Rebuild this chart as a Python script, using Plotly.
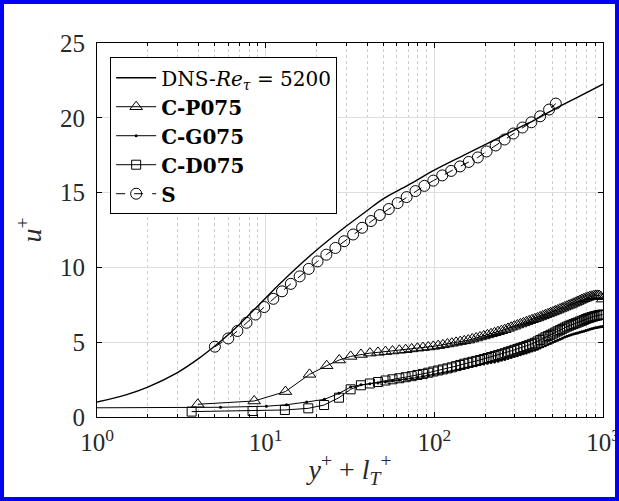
import plotly.graph_objects as go

# ---- DNS reference profile, Re_tau = 5200 ----
dns_yplus = [1, 1.5, 2, 3, 4, 5, 6, 7, 8, 10, 12, 15, 20, 25, 30, 40, 50, 70,
             100, 150, 200, 300, 400, 500, 700, 1000]
dns_uplus = [1.0, 1.5, 2.0, 2.97, 3.9, 4.75, 5.5, 6.2, 6.85, 7.95, 8.85, 9.9,
             11.15, 12.05, 12.75, 13.8, 14.6, 15.5, 16.5, 17.5, 18.2, 19.2,
             19.9, 20.5, 21.35, 22.25]

# ---- smooth wall case S ----
s_yplus = [5.0, 6.0, 6.8, 7.7, 8.7, 9.8, 11.1, 12.5, 14.1, 15.9, 18.0, 20.3,
           22.9, 25.9, 29.2, 33.0, 37.3, 42.1, 47.5, 53.7, 60.6, 68.5, 77.3,
           87.3, 98.6, 111.4, 125.8, 142, 160, 181, 204, 231, 261, 294, 333,
           376, 424, 479, 525]
s_uplus = [4.7, 5.25, 5.75, 6.3, 6.85, 7.35, 7.9, 8.4, 8.9, 9.4, 9.9, 10.4,
           10.85, 11.3, 11.75, 12.2, 12.65, 13.1, 13.5, 13.9, 14.3, 14.7, 15.1,
           15.45, 15.8, 16.15, 16.45, 16.75, 17.05, 17.35, 17.75, 18.15, 18.55,
           18.95, 19.35, 19.7, 20.1, 20.55, 20.95]

# ---- outer part of the wall-normal grid shared by the C cases ----
outer_yplus = [41.5, 46.3, 51.3, 56.5, 62, 67.6, 73.4, 79.4, 85.6, 92, 98.6,
               105.4, 112.4, 119.6, 127, 134.6, 142.4, 150.5, 159, 167.8, 177,
               186.5, 196.3, 206.4, 216.8, 227.5, 238.5, 249.8, 261.4, 273.3,
               285.5, 298, 310.8, 323.9, 337.3, 351, 365, 379.3, 393.9, 408.8,
               424, 439.5, 455.3, 471.4, 487.8, 504.5, 521.5, 538.8, 556.4,
               574.3, 592.5, 611, 629.8, 648.9, 668.3, 688, 708, 728.3, 748.9,
               769.8, 791, 812.5, 834.3, 856.4, 878.8, 901.5, 924.5, 947.8,
               971.4, 995.3]

# ---- C-P075 ----
p075_inner_yplus = [3.96, 8.55, 13.1, 18.2, 23.0, 27.3, 31.9, 36.7]
p075_inner_uplus = [0.85, 1.07, 1.70, 2.85, 3.43, 3.81, 4.05, 4.18]
p075_outer_uplus = [4.27, 4.32, 4.37, 4.41, 4.46, 4.50, 4.55, 4.60, 4.64, 4.68,
                    4.72, 4.77, 4.82, 4.88, 4.93, 4.99, 5.04, 5.09, 5.14, 5.21,
                    5.28, 5.35, 5.42, 5.49, 5.56, 5.63, 5.70, 5.77, 5.84, 5.92,
                    6.00, 6.07, 6.15, 6.22, 6.29, 6.36, 6.43, 6.50, 6.56, 6.62,
                    6.69, 6.76, 6.83, 6.89, 6.96, 7.02, 7.09, 7.15, 7.22, 7.28,
                    7.35, 7.41, 7.47, 7.53, 7.60, 7.66, 7.72, 7.79, 7.85, 7.90,
                    7.95, 8.00, 8.04, 8.07, 8.10, 8.12, 8.13, 8.12, 8.04, 7.88]

# ---- C-G075 ----
g075_inner_yplus = [0.5, 5.4, 10.1, 13.3, 17.5, 22.3, 27.2, 31.9, 36.7]
g075_inner_uplus = [0.60, 0.65, 0.72, 0.82, 1.00, 1.18, 1.58, 2.00, 2.15]
g075_outer_uplus = [2.22, 2.28, 2.34, 2.40, 2.46, 2.52, 2.58, 2.64, 2.71, 2.78,
                    2.84, 2.90, 2.96, 3.02, 3.08, 3.14, 3.19, 3.25, 3.31, 3.37,
                    3.43, 3.49, 3.54, 3.59, 3.64, 3.68, 3.73, 3.79, 3.85, 3.91,
                    3.98, 4.04, 4.10, 4.16, 4.22, 4.28, 4.35, 4.41, 4.47, 4.53,
                    4.61, 4.69, 4.77, 4.85, 4.92, 4.99, 5.06, 5.13, 5.20, 5.27,
                    5.34, 5.40, 5.45, 5.50, 5.54, 5.58, 5.62, 5.66, 5.70, 5.74,
                    5.78, 5.82, 5.86, 5.90, 5.93, 5.96, 5.99, 6.02, 6.04, 6.05]

# ---- C-D075 ----
d075_inner_yplus = [3.64, 8.36, 13.0, 17.9, 22.2, 27.2, 31.9, 36.7]
d075_inner_uplus = [0.36, 0.40, 0.47, 0.58, 0.80, 1.29, 1.85, 2.12]
d075_outer_uplus = [2.24, 2.34, 2.44, 2.52, 2.59, 2.66, 2.73, 2.81, 2.88, 2.96,
                    3.04, 3.11, 3.18, 3.25, 3.32, 3.40, 3.48, 3.56, 3.62, 3.69,
                    3.75, 3.81, 3.88, 3.94, 4.01, 4.07, 4.14, 4.20, 4.27, 4.35,
                    4.42, 4.49, 4.55, 4.62, 4.68, 4.75, 4.82, 4.89, 4.96, 5.05,
                    5.15, 5.24, 5.33, 5.41, 5.49, 5.57, 5.65, 5.73, 5.81, 5.89,
                    5.97, 6.04, 6.10, 6.16, 6.21, 6.27, 6.32, 6.38, 6.43, 6.49,
                    6.55, 6.60, 6.64, 6.68, 6.72, 6.75, 6.78, 6.81, 6.83, 6.85]

# ---- axis ticks ----
x_tick_vals = [1, 10, 100, 1000]
x_tick_text = ["10<sup>0</sup>", "10<sup>1</sup>", "10<sup>2</sup>", "10<sup>3</sup>"]
x_minor_vals = [2, 3, 4, 5, 6, 7, 8, 9, 20, 30, 40, 50, 60, 70, 80, 90,
                200, 300, 400, 500, 600, 700, 800, 900]
y_tick_vals = [0, 5, 10, 15, 20, 25]

SERIF = "Liberation Serif, Times New Roman, serif"
LEGEND_SERIF = "DejaVu Serif, serif"
BLACK = "black"
TEXT = "rgb(40,40,40)"

fig = go.Figure()

fig.add_trace(go.Scatter(
    x=dns_yplus, y=dns_uplus, mode="lines", line_shape="spline",
    line=dict(color=BLACK, width=1.4),
    name="DNS-<i>Re</i><sub><i>τ</i></sub> = 5200", legendgroup="a"))

fig.add_trace(go.Scatter(
    x=p075_inner_yplus + outer_yplus, y=p075_inner_uplus + p075_outer_uplus,
    mode="lines+markers", line=dict(color=BLACK, width=1),
    marker=dict(symbol="triangle-up-open", size=11, color=BLACK,
                line=dict(width=1, color=BLACK)),
    name="<b>C-P075</b>", legendgroup="b"))

fig.add_trace(go.Scatter(
    x=g075_inner_yplus + outer_yplus, y=g075_inner_uplus + g075_outer_uplus,
    mode="lines+markers", line=dict(color=BLACK, width=1),
    marker=dict(symbol="circle", size=3, color=BLACK),
    name="<b>C-G075</b>", legendgroup="c"))

fig.add_trace(go.Scatter(
    x=d075_inner_yplus + outer_yplus, y=d075_inner_uplus + d075_outer_uplus,
    mode="lines+markers", line=dict(color=BLACK, width=1),
    marker=dict(symbol="square-open", size=9, color=BLACK,
                line=dict(width=1, color=BLACK)),
    name="<b>C-D075</b>", legendgroup="d"))

fig.add_trace(go.Scatter(
    x=s_yplus, y=s_uplus, mode="lines+markers",
    line=dict(color=BLACK, width=1, dash="dash"),
    marker=dict(symbol="circle-open", size=11, color=BLACK,
                line=dict(width=1, color=BLACK)),
    name="<b>S</b>", legendgroup="e"))

axis_common = dict(
    showline=True, linecolor=BLACK, linewidth=1, mirror="ticks",
    ticks="inside", ticklen=5, tickcolor=BLACK,
    gridcolor="rgb(222,222,222)", gridwidth=1, zeroline=False,
    tickfont=dict(family=SERIF, size=25, color=TEXT),
    ticklabeloverflow="allow", automargin=False,
)

fig.update_xaxes(
    type="log", range=[0, 3], tickmode="array",
    tickvals=x_tick_vals, ticktext=x_tick_text, ticklabelstandoff=3,
    minor=dict(tickmode="array", tickvals=x_minor_vals, ticks="inside",
               ticklen=3, tickcolor=BLACK, showgrid=True,
               gridcolor="rgb(205,205,205)", griddash="dot", gridwidth=1),
    title=dict(text="<i>y</i><sup>+</sup> + <i>l</i><sub><i>T</i></sub><sup>+</sup>",
               font=dict(family=SERIF, size=28, color=TEXT), standoff=4),
    **axis_common)

fig.update_yaxes(
    range=[0, 25], tickmode="array", tickvals=y_tick_vals, ticklabelstandoff=6,
    title=dict(text="<i>u</i><sup>+</sup>",
               font=dict(family=SERIF, size=28, color=TEXT), standoff=10),
    **axis_common)

fig.update_layout(
    width=619, height=501,
    margin=dict(l=97, r=16, t=43, b=84),
    paper_bgcolor="white", plot_bgcolor="white",
    showlegend=True,
    legend=dict(x=0.026, y=0.962, xanchor="left", yanchor="top",
                bgcolor="white", bordercolor=BLACK, borderwidth=1,
                font=dict(family=LEGEND_SERIF, size=20, color=BLACK),
                tracegroupgap=0, itemwidth=40),
    shapes=[dict(type="rect", xref="paper", yref="paper",
                 x0=-0.1877, x1=1.0277, y0=-0.2193, y1=1.1096,
                 line=dict(color="rgb(0,0,245)", width=4), layer="above")],
)

fig.write_html("out.html")
